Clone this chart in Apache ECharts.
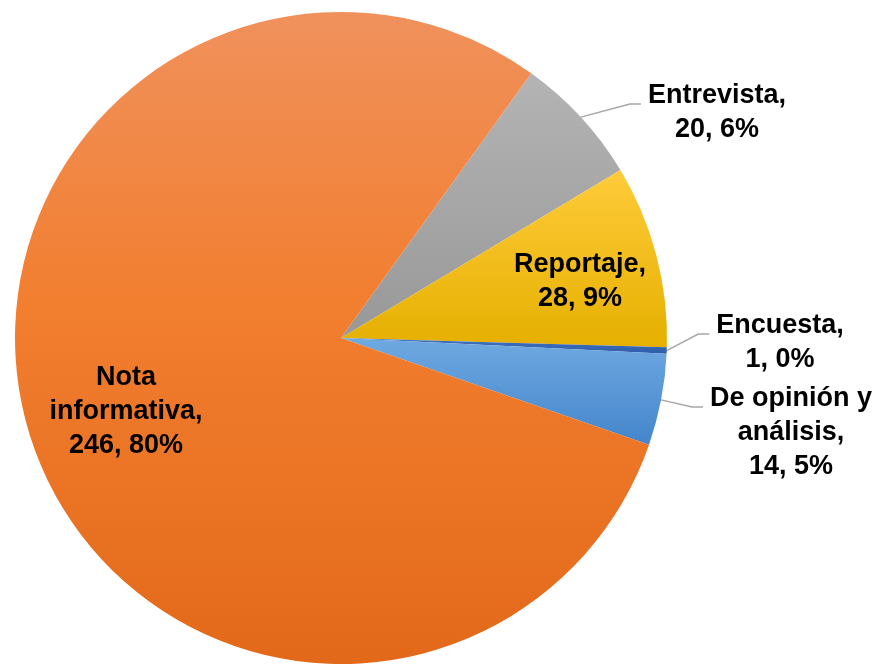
<!DOCTYPE html>
<html>
<head>
<meta charset="utf-8">
<style>
  html, body { margin: 0; padding: 0; background: #fff; }
  #chart { width: 882px; height: 664px; }
</style>
<script src="https://cdn.jsdelivr.net/npm/echarts@6/dist/echarts.min.js"></script>
</head>
<body>
<div id="chart"></div>
<script>
// data, clockwise from the top-right
const categories = ['Entrevista', 'Reportaje', 'Encuesta', 'De opinión y análisis', 'Nota informativa'];
const values = [20, 28, 1, 14, 246];
// how each label is broken into lines
const labelHeads = ['Entrevista,', 'Reportaje,', 'Encuesta,', 'De opinión y\nanálisis,', 'Nota\ninformativa,'];

const total = values.reduce((a, b) => a + b, 0);

// colours (Excel style gradient, top -> bottom)
const grad = (a, b) => new echarts.graphic.LinearGradient(0, 0, 0, 1, [
  { offset: 0, color: a }, { offset: 1, color: b }
]);
const fills = [
  grad('#B4B4B4', '#989898'),
  grad('#FFCB3A', '#E5B000'),
  grad('#4174C4', '#2D5CA6'),
  grad('#6FA9E1', '#4485CB'),
  new echarts.graphic.LinearGradient(0, 0, 0, 1, [
    { offset: 0, color: '#F0915C' },
    { offset: 0.45, color: '#F27E2F' },
    { offset: 1, color: '#E3691A' }
  ])
];

// label centres in px and whether they sit inside the slice
const labelPlace = {
  'Entrevista': { x: 717, y: 113, inside: false },
  'Reportaje': { x: 580, y: 282, inside: true },
  'Encuesta': { x: 780, y: 343, inside: false },
  'De opinión y análisis': { x: 791, y: 433, inside: false },
  'Nota informativa': { x: 126, y: 412, inside: true }
};

const seriesData = categories.map((name, i) => ({
  name: name,
  value: values[i],
  itemStyle: { color: fills[i] },
  label: { position: labelPlace[name].inside ? 'inside' : 'outside' },
  labelLine: { show: !labelPlace[name].inside }
}));

const chart = echarts.init(document.getElementById('chart'));
chart.setOption({
  animation: false,
  series: [{
    type: 'pie',
    center: [341, 338],
    radius: 326,
    startAngle: 54.3,
    clockwise: true,
    avoidLabelOverlap: false,
    data: seriesData,
    label: {
      show: true,
      color: '#000',
      fontFamily: 'Liberation Sans, Arial, sans-serif',
      fontWeight: 'bold',
      fontSize: 27,
      lineHeight: 34,
      align: 'center',
      formatter: p => labelHeads[p.dataIndex] + '\n' + p.value + ', ' + Math.round(p.value / total * 100) + '%'
    },
    labelLine: {
      length: 40,
      length2: 10,
      lineStyle: { color: '#A6A6A6', width: 1.5 }
    },
    labelLayout: function (params) {
      const place = labelPlace[categories[params.dataIndex]];
      const w = params.labelRect.width;
      const h = params.labelRect.height;
      const out = { x: place.x, y: place.y, align: 'center', verticalAlign: 'middle' };
      if (!place.inside && params.labelLinePoints) {
        const left = place.x - w / 2;
        const top = place.y - h / 2;
        const start = params.labelLinePoints[0];
        out.labelLinePoints = [
          [start[0], start[1]],
          [left - 18, top + 25],
          [left - 7, top + 25]
        ];
      }
      return out;
    }
  }]
});
</script>
</body>
</html>
